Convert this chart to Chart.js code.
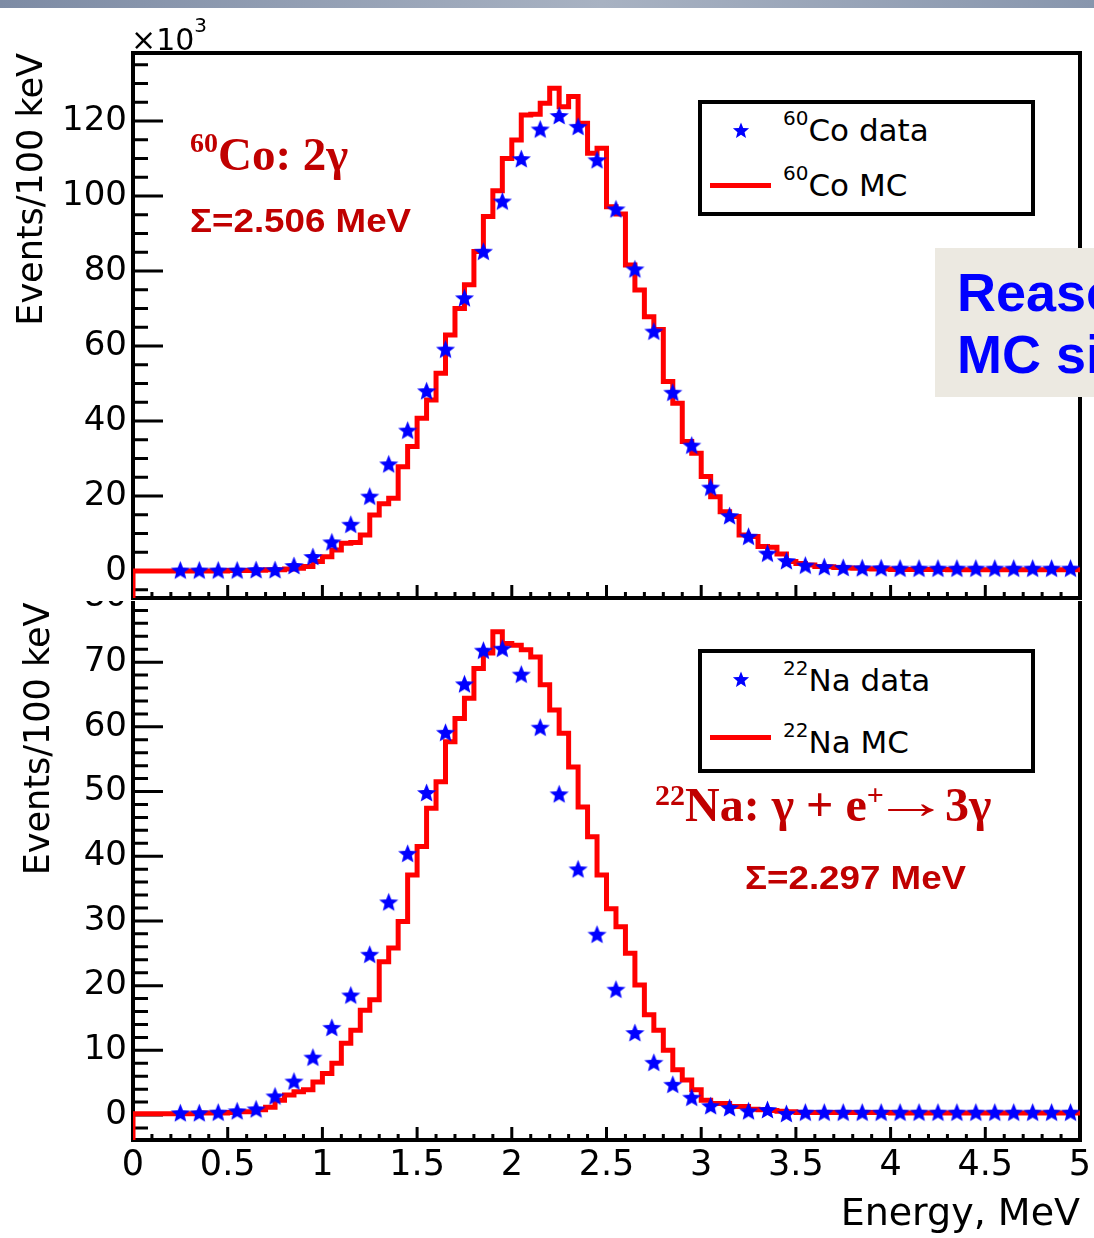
<!DOCTYPE html>
<html>
<head>
<meta charset="utf-8">
<title>60Co and 22Na summed energy spectra</title>
<script src="https://cdn.jsdelivr.net/npm/chart.js@4.4.1/dist/chart.umd.min.js"></script>
<style>
  html, body { margin: 0; padding: 0; background: #fff; }
  #page { position: relative; width: 1094px; height: 1238px; overflow: hidden; background: #fff; }
  canvas { position: absolute; left: 0; }
  #coChart { top: 0; z-index: 2; background: #fff; }
  #naChart { top: 540px; z-index: 1; }
  .topbar { position: absolute; left: 0; top: 0; width: 1094px; height: 8px; z-index: 3;
            background: linear-gradient(to right, #7d8ba4, #a8b2c2 55%, #8896ad); }
  .txt { position: absolute; white-space: nowrap; line-height: 1; z-index: 4; }
  .sans { font-family: "DejaVu Sans", sans-serif; color: #000; }
  .note { font-family: "Liberation Serif", serif; font-weight: bold; color: #c00000; }
  .sum { font-family: "Liberation Sans", Arial, sans-serif; font-weight: bold; color: #c00000;
         font-size: 34px; transform: scaleX(1.08); transform-origin: left; }
  .sup { position: relative; }
  .arrow { display: inline-block; transform: scaleX(1.6); margin: 0 -2px 0 3px; position: relative; top: -3px; }
  .legend { position: absolute; box-sizing: border-box; border: 4px solid #000; background: #fff; z-index: 3; }
  .lstar { position: absolute; z-index: 4; line-height: 0; }
  .lline { position: absolute; height: 5px; width: 61px; background: #ff0000; z-index: 4; }
  .remark { position: absolute; left: 935px; top: 248px; width: 170px; height: 149px; background: #ece9e1; z-index: 5; }
  .remark .txt { font-family: "Liberation Sans", Arial, sans-serif; font-weight: bold; color: #0000ff; font-size: 54px; }
</style>
</head>
<body>
<div id="page">
  <div class="topbar"></div>
  <canvas id="naChart" width="1094" height="698"></canvas>
  <canvas id="coChart" width="1094" height="601"></canvas>

  <div class="txt sans" style="left:131px; top:25px; font-size:30px;">×10<span class="sup" style="font-size:20px; top:-18px;">3</span></div>

  <div class="txt note" style="left:190px; top:131px; font-size:47px;"><span class="sup" style="font-size:28px; top:-18px;">60</span>Co: 2γ</div>
  <div class="txt sum" style="left:190px; top:203px;">Σ=2.506 MeV</div>

  <div class="legend" style="left:698px; top:100px; width:337px; height:116px;"></div>
  <div class="lstar" style="left:731px; top:121px;"></div>
  <div class="txt sans" style="left:783px; top:115px; font-size:31px;"><span class="sup" style="font-size:20px; top:-16px;">60</span>Co data</div>
  <div class="lline" style="left:710px; top:183px;"></div>
  <div class="txt sans" style="left:783px; top:170px; font-size:31px;"><span class="sup" style="font-size:20px; top:-16px;">60</span>Co MC</div>

  <div class="remark">
    <div class="txt" style="left:22px; top:17px;">Reaso</div>
    <div class="txt" style="left:22px; top:79px;">MC si</div>
  </div>

  <div class="legend" style="left:698px; top:649px; width:337px; height:124px;"></div>
  <div class="lstar" style="left:731px; top:670px;"></div>
  <div class="txt sans" style="left:783px; top:665px; font-size:31px;"><span class="sup" style="font-size:20px; top:-16px;">22</span>Na data</div>
  <div class="lline" style="left:710px; top:735px;"></div>
  <div class="txt sans" style="left:783px; top:727px; font-size:31px;"><span class="sup" style="font-size:20px; top:-16px;">22</span>Na MC</div>

  <div class="txt note" style="left:655px; top:781px; font-size:48px;"><span class="sup" style="font-size:30px; top:-16px;">22</span>Na: γ + e<span class="sup" style="font-size:30px; top:-16px;">+</span><span class="arrow">→</span> 3γ</div>
  <div class="txt sum" style="left:745px; top:860px;">Σ=2.297 MeV</div>
</div>

<script>
// measured points (stars), one per 100 keV bin centre, in units of 10^3 events
const dataEnergy = [
  0.25, 0.35, 0.45, 0.55, 0.65, 0.75, 0.85, 0.95, 1.05, 1.15,
  1.25, 1.35, 1.45, 1.55, 1.65, 1.75, 1.85, 1.95, 2.05, 2.15,
  2.25, 2.35, 2.45, 2.55, 2.65, 2.75, 2.85, 2.95, 3.05, 3.15,
  3.25, 3.35, 3.45, 3.55, 3.65, 3.75, 3.85, 3.95, 4.05, 4.15,
  4.25, 4.35, 4.45, 4.55, 4.65, 4.75, 4.85, 4.95
];
const coData = [
  0, 0, 0, 0, 0.1, 0.1, 1.2, 3.6, 7.5, 12.2,
  19.7, 28.3, 37.3, 47.8, 58.9, 72.6, 85.0, 98.4, 109.7, 117.6,
  121.2, 118.3, 109.4, 96.3, 80.3, 63.7, 47.4, 33.3, 22.1, 14.5,
  9.0, 4.5, 2.5, 1.3, 0.9, 0.7, 0.6, 0.6, 0.5, 0.5,
  0.5, 0.5, 0.5, 0.5, 0.5, 0.5, 0.5, 0.5
];
const naData = [
  0.2, 0.2, 0.3, 0.5, 0.8, 2.8, 5.1, 8.8, 13.4, 18.4,
  24.7, 32.8, 40.3, 49.7, 59.0, 66.5, 71.7, 72.0, 68.0, 59.8,
  49.5, 37.9, 27.8, 19.3, 12.6, 8.0, 4.6, 2.6, 1.3, 1.0,
  0.5, 0.7, 0.1, 0.3, 0.3, 0.3, 0.3, 0.3, 0.3, 0.3,
  0.3, 0.3, 0.3, 0.3, 0.3, 0.3, 0.3, 0.3
];

// MC histograms, 50 keV bins from 0 to 5 MeV
const mcBinWidth = 0.05;
const coMC = [
  0, 0, 0, 0, 0, 0, 0, 0, 0, 0,
  0.1, 0.1, 0.1, 0.2, 0.3, 0.3, 0.5, 0.7, 1.2, 2.5,
  3.8, 5.6, 7.4, 7.6, 9.6, 14.9, 17.9, 19.4, 27.8, 33.2,
  40.7, 45.6, 52.7, 62.9, 70.0, 76.3, 85.2, 94.5, 101.4, 110.0,
  114.9, 121.6, 121.8, 124.7, 128.7, 123.8, 126.5, 119.4, 111.4, 112.7,
  97.1, 95.2, 81.6, 74.9, 67.8, 64.4, 50.5, 44.7, 34.5, 31.4,
  25.2, 19.8, 15.8, 14.5, 9.6, 9.2, 6.5, 6.3, 4.5, 2.5,
  2.0, 1.6, 1.2, 1.1, 0.9, 0.8, 0.7, 0.6, 0.5, 0.5,
  0.4, 0.4, 0.4, 0.4, 0.4, 0.4, 0.3, 0.3, 0.3, 0.3,
  0.3, 0.3, 0.3, 0.3, 0.3, 0.3, 0.3, 0.3, 0.3, 0.3
];
const naMC = [
  0.2, 0.2, 0.2, 0.2, 0.2, 0.2, 0.2, 0.3, 0.3, 0.3,
  0.4, 0.5, 0.5, 0.8, 1.2, 2.3, 3.1, 3.6, 3.9, 5.1,
  6.4, 8.0, 11.1, 13.1, 16.2, 17.8, 23.7, 25.8, 29.9, 37.1,
  41.5, 47.4, 51.5, 57.7, 61.3, 64.4, 69.0, 71.4, 74.7, 72.9,
  72.6, 71.9, 70.8, 66.5, 62.6, 59.0, 53.8, 47.6, 43.0, 37.1,
  31.9, 29.1, 25.0, 20.1, 15.5, 13.1, 10.0, 7.0, 5.4, 3.9,
  2.3, 1.8, 1.8, 1.3, 1.3, 0.9, 0.8, 0.7, 0.6, 0.5,
  0.4, 0.4, 0.4, 0.4, 0.4, 0.4, 0.4, 0.4, 0.4, 0.4,
  0.3, 0.3, 0.3, 0.3, 0.3, 0.3, 0.3, 0.3, 0.3, 0.3,
  0.3, 0.3, 0.3, 0.3, 0.3, 0.3, 0.3, 0.3, 0.3, 0.3
];

// axis ticks
const xTickStep = 0.5;
const xMinorStep = 0.1;
const coTickStep = 20;
const coMinorStep = 5;
const naTickStep = 10;
const naMinorStep = 2;

// filled five-point star, like ROOT marker 29
function makeStarImage(r) {
  const c = document.createElement('canvas');
  const s = Math.ceil(r * 2 + 3);
  c.width = c.height = s;
  const g = c.getContext('2d');
  g.fillStyle = '#0000ff';
  g.beginPath();
  for (let i = 0; i < 10; i++) {
    const rad = i % 2 ? r * 0.44 : r;
    const ang = -Math.PI / 2 + i * Math.PI / 5;
    g.lineTo(s / 2 + rad * Math.cos(ang), s / 2 + rad * Math.sin(ang));
  }
  g.closePath();
  g.fill();
  return c;
}
const starImage = makeStarImage(10);
document.querySelectorAll('.lstar').forEach(el => el.appendChild(makeStarImage(8.5)));

// histogram outline: start at the axis floor, one point per bin low edge, close at 5 MeV
function histPoints(counts, floor) {
  const pts = [{ x: 0, y: floor }];
  counts.forEach((c, k) => pts.push({ x: +(k * mcBinWidth).toFixed(2), y: c }));
  pts.push({ x: 5, y: counts[counts.length - 1] });
  return pts;
}

// frame + inward ticks, ROOT style
function axisFrame(yMinor, yMajor) {
  return {
    id: 'axisFrame',
    beforeDatasetsDraw(chart) {
      const { ctx, chartArea: a } = chart;
      const xs = chart.scales.x, ys = chart.scales.y;
      ctx.save();
      ctx.strokeStyle = '#000';
      ctx.lineWidth = 3;
      ctx.beginPath();
      const xPer = Math.round(xTickStep / xMinorStep);
      for (let i = 0; i * xMinorStep <= xs.max + 1e-6; i++) {
        const px = xs.getPixelForValue(i * xMinorStep);
        const len = i % xPer === 0 ? 13 : 6;
        ctx.moveTo(px, a.bottom);
        ctx.lineTo(px, a.bottom - len);
      }
      const yPer = Math.round(yMajor / yMinor);
      for (let i = Math.ceil(ys.min / yMinor); i * yMinor <= ys.max; i++) {
        const py = ys.getPixelForValue(i * yMinor);
        const len = i % yPer === 0 ? 30 : 15;
        ctx.moveTo(a.left, py);
        ctx.lineTo(a.left + len, py);
      }
      ctx.stroke();
      ctx.lineWidth = 4;
      ctx.strokeRect(a.left, a.top, a.right - a.left, a.bottom - a.top);
      ctx.restore();
    }
  };
}

function makePanel(id, p) {
  return new Chart(document.getElementById(id), {
    type: 'line',
    data: {
      datasets: [
        {
          label: p.dataLabel,
          data: dataEnergy.map((e, i) => ({ x: e, y: p.data[i] })),
          showLine: false,
          pointStyle: starImage,
          pointRadius: 9,
          pointHoverRadius: 9
        },
        {
          label: p.mcLabel,
          data: histPoints(p.mc, p.yMin),
          stepped: 'before',
          borderColor: '#ff0000',
          borderWidth: 5,
          borderJoinStyle: 'miter',
          pointRadius: 0,
          fill: false
        }
      ]
    },
    options: {
      responsive: false,
      animation: false,
      devicePixelRatio: 1,
      layout: { autoPadding: false, padding: { top: p.padTop, right: 14, bottom: 0, left: 0 } },
      plugins: { legend: { display: false }, tooltip: { enabled: false } },
      scales: {
        x: {
          type: 'linear', min: 0, max: 5,
          grid: { display: false, drawTicks: false },
          border: { display: false },
          ticks: {
            display: p.showX, stepSize: xTickStep, autoSkip: false, maxRotation: 0,
            padding: 5, color: '#000',
            font: { family: 'DejaVu Sans', size: 35 },
            callback: v => String(Math.round(v * 10) / 10)
          },
          title: {
            display: p.showX, text: 'Energy, MeV', align: 'end', color: '#000',
            font: { family: 'DejaVu Sans', size: 38 }, padding: 0
          },
          afterFit: s => { s.height = p.xHeight; s.paddingLeft = 0; s.paddingRight = 0; }
        },
        y: {
          type: 'linear', min: p.yMin, max: p.yMax,
          grid: { display: false, drawTicks: false },
          border: { display: false },
          ticks: {
            stepSize: p.yStep, includeBounds: false, padding: 6, color: '#000',
            font: { family: 'DejaVu Sans', size: 34 }
          },
          title: {
            display: true, text: p.yTitle, align: 'end', color: '#000',
            font: { family: 'DejaVu Sans', size: 35 }, padding: { top: p.titlePad, bottom: 0 }
          },
          afterFit: s => { s.width = 133; s.paddingTop = 0; s.paddingBottom = 0; }
        }
      }
    },
    plugins: [axisFrame(p.yMinor, p.yStep)]
  });
}

makePanel('coChart', {
  dataLabel: '60Co data', mcLabel: '60Co MC',
  data: coData, mc: coMC,
  yMin: -7.2, yMax: 138.13, yStep: coTickStep, yMinor: coMinorStep,
  padTop: 53, xHeight: 3, showX: false, titlePad: 12,
  yTitle: 'Events/100 keV'
});

// the upper pad hides the top of this one, so the title is nudged below it
makePanel('naChart', {
  dataLabel: '22Na data', mcLabel: '22Na MC',
  data: naData, mc: naMC,
  yMin: -3.86, yMax: 82.0, yStep: naTickStep, yMinor: naMinorStep,
  padTop: 44.5, xHeight: 98, showX: true, titlePad: 19,
  yTitle: 'Events/100 keV\u2009 '
});
</script>
</body>
</html>
